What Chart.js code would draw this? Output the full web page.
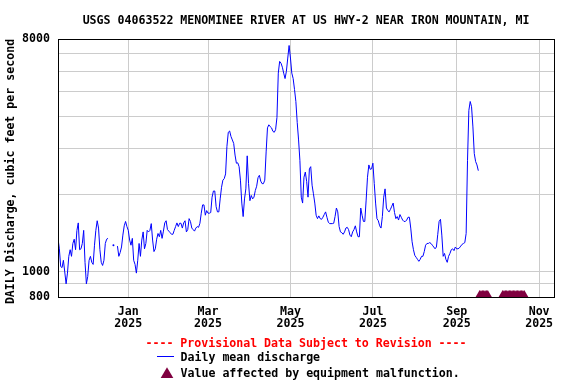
<!DOCTYPE html>
<html>
<head>
<meta charset="utf-8">
<title>USGS 04063522 Menominee River</title>
<script src="https://cdn.jsdelivr.net/npm/chart.js"></script>
<style>
  html, body { margin: 0; padding: 0; background: #fff; }
  #wrap { width: 576px; height: 384px; }
</style>
</head>
<body>
<div id="wrap"><canvas id="chart" width="576" height="384"></canvas></div>
<script>
const titleText = 'USGS 04063522 MENOMINEE RIVER AT US HWY-2 NEAR IRON MOUNTAIN, MI';
const yTitle = 'DAILY Discharge, cubic feet per second';
const provisionalNote = '---- Provisional Data Subject to Revision ----';
const seriesLabel = 'Daily mean discharge';
const markerLabel = 'Value affected by equipment malfunction.';

// first value is 2024-11-10, one value per day
const startDate = '2024-11-10';
const endDate = '2025-11-12';
const discharge = [
  1350, 1230, 1050, 1040, 1110, 1000, 900, 990, 1150, 1220,
  1150, 1290, 1340, 1220, 1450, 1550, 1220, 1230, 1290, 1450,
  1090, 900, 960, 1110, 1150, 1090, 1070, 1270, 1450, 1580,
  1480, 1220, 1090, 1060, 1110, 1290, 1340, 1350, null, null,
  null, 1270, null, null, 1260, 1150, 1190, 1250, 1390, 1510,
  1570, 1500, 1450, 1330, 1270, 1350, 1110, 1070, 990, 1110,
  1290, 1150, 1330, 1430, 1230, 1290, 1450, 1430, 1450, 1540,
  1330, 1200, 1230, 1340, 1410, 1370, 1450, 1350, 1440, 1550,
  1580, 1460, 1440, 1420, 1400, 1400, 1450, 1500, 1550, 1500,
  1545, 1545, 1480, 1550, 1580, 1430, 1460, 1610, 1570, 1480,
  1460, 1440, 1480, 1500, 1490, 1545, 1690, 1820, 1820, 1660,
  1730, 1690, 1690, 1700, 1950, 2060, 2060, 1790, 1710, 1710,
  1920, 2130, 2270, 2300, 2400, 3070, 3480, 3520, 3350, 3250,
  3150, 2840, 2640, 2650, 2560, 2270, 1850, 1640, 1920, 2100,
  2820, 2200, 1890, 1980, 1920, 1950, 2070, 2150, 2320, 2370,
  2250, 2200, 2200, 2270, 2920, 3620, 3720, 3660, 3620, 3510,
  3480, 3560, 3970, 5900, 6550, 6450, 6220, 5900, 5620, 6000,
  6750, 7550, 6750, 5900, 5620, 5100, 4580, 3800, 3250, 2700,
  1950, 1850, 2330, 2440, 2240, 1950, 2510, 2560, 2170, 2010,
  1850, 1660, 1610, 1650, 1610, 1600, 1630, 1670, 1710, 1630,
  1560, 1540, 1540, 1540, 1545, 1640, 1770, 1710, 1500, 1430,
  1420, 1400, 1430, 1480, 1490, 1460, 1390, 1370, 1430, 1460,
  1510, 1430, 1370, 1370, 1770, 1660, 1570, 1570, 1900, 2330,
  2600, 2500, 2510, 2640, 2200, 1850, 1610, 1580, 1510, 1480,
  1640, 1950, 2100, 1770, 1730, 1710, 1750, 1800, 1850, 1700,
  1610, 1640, 1590, 1670, 1630, 1590, 1570, 1570, 1590, 1630,
  1630, 1480, 1310, 1220, 1160, 1140, 1120, 1100, 1120, 1150,
  1150, 1200, 1270, 1290, 1290, 1300, 1290, 1270, 1250, 1230,
  1250, 1400, 1570, 1600, 1390, 1150, 1180, 1120, 1090, 1150,
  1180, 1220, 1230, 1210, 1250, 1230, 1230, 1240, 1260, 1280,
  1290, 1300, 1410, 2700, 4230, 4580, 4370, 3650, 2880, 2680,
  2600, 2470
];

// days flagged for equipment malfunction (first, last)
const malfunctionRanges = [['2025-09-18', '2025-09-24'], ['2025-10-05', '2025-10-21']];
const markerValue = 800;

const tickDates = ['2025-01-01', '2025-03-01', '2025-05-01', '2025-07-01', '2025-09-01', '2025-11-01'];
const tickMonths = ['Jan', 'Mar', 'May', 'Jul', 'Sep', 'Nov'];
const tickYears = ['2025', '2025', '2025', '2025', '2025', '2025'];

const yTickValues = [800, 900, 1000, 2000, 3000, 4000, 5000, 6000, 7000, 8000];
const yLabelValues = [800, 1000, 8000];

const FONT = "'DejaVu Sans Mono', 'Liberation Mono', monospace";
const BLUE = '#0000ff';
const MAROON = '#800040';
const GRID = '#cccccc';

function dayIndex(s) {
  return Math.round((Date.parse(s) - Date.parse(startDate)) / 86400000);
}

const lineData = discharge.map((v, i) => ({ x: i, y: v }));
const markerData = [];
malfunctionRanges.forEach(r => {
  for (let d = dayIndex(r[0]); d <= dayIndex(r[1]); d++) markerData.push({ x: d, y: markerValue });
});

function isolated(i) {
  return discharge[i] != null && discharge[i - 1] == null && discharge[i + 1] == null;
}

// frame, title and legend are drawn by hand
const decorPlugin = {
  id: 'decor',
  afterDraw(chart) {
    const { ctx, chartArea: a } = chart;
    ctx.save();
    ctx.strokeStyle = '#000';
    ctx.lineWidth = 1;
    ctx.strokeRect(a.left + 0.5, a.top + 0.5, a.right - a.left, a.bottom - a.top);

    ctx.font = 'bold 11.6px ' + FONT;
    ctx.textBaseline = 'alphabetic';
    ctx.fillStyle = '#000';
    ctx.textAlign = 'center';
    ctx.fillText(titleText, (a.left + a.right) / 2, 23.5);

    ctx.fillStyle = '#ff0000';
    ctx.fillText(provisionalNote, (a.left + a.right) / 2, 347);

    ctx.strokeStyle = BLUE;
    ctx.beginPath();
    ctx.moveTo(157, 356.5);
    ctx.lineTo(174, 356.5);
    ctx.stroke();

    ctx.fillStyle = MAROON;
    ctx.beginPath();
    ctx.moveTo(167, 367.3);
    ctx.lineTo(173.3, 378);
    ctx.lineTo(160.7, 378);
    ctx.closePath();
    ctx.fill();

    ctx.fillStyle = '#000';
    ctx.textAlign = 'left';
    ctx.fillText(seriesLabel, 180.5, 361);
    ctx.fillText(markerLabel, 180.5, 377);
    ctx.restore();
  }
};

const ctx = document.getElementById('chart').getContext('2d');
const chart = new Chart(ctx, {
  type: 'line',
  data: {
    datasets: [{
      label: seriesLabel,
      data: lineData,
      borderColor: BLUE,
      backgroundColor: BLUE,
      borderWidth: 1,
      spanGaps: false,
      pointRadius: c => isolated(c.dataIndex) ? 1 : 0,
      pointBorderWidth: 0,
      pointBackgroundColor: BLUE,
      tension: 0
    }, {
      label: markerLabel,
      data: markerData,
      showLine: false,
      pointStyle: 'triangle',
      pointRadius: 7,
      pointBorderWidth: 0,
      pointBackgroundColor: MAROON,
      borderColor: MAROON,
      clip: 0
    }]
  },
  options: {
    responsive: false,
    animation: false,
    devicePixelRatio: 1,
    layout: { padding: { top: 39, right: 22, left: 0, bottom: 0 } },
    plugins: {
      legend: { display: false },
      title: { display: false },
      tooltip: { enabled: false }
    },
    scales: {
      x: {
        type: 'linear',
        min: 0,
        max: dayIndex(endDate),
        afterBuildTicks: s => { s.ticks = tickDates.map(d => ({ value: dayIndex(d) })); },
        afterFit: s => { s.height = 87; },
        grid: { color: GRID, drawTicks: false },
        border: { display: false },
        ticks: {
          autoSkip: false,
          maxRotation: 0,
          padding: 9,
          color: '#000',
          font: { family: FONT, size: 11.6, weight: 'bold', lineHeight: 1.04 },
          callback: (v, i) => [tickMonths[i], tickYears[i]]
        }
      },
      y: {
        type: 'logarithmic',
        min: 800,
        max: 8000,
        afterBuildTicks: s => { s.ticks = yTickValues.map(v => ({ value: v })); },
        afterFit: s => { s.width = 58; },
        grid: { color: GRID, drawTicks: false },
        border: { display: false },
        title: {
          display: true,
          // trailing space nudges the centred title down a little, as in the original
          text: yTitle + '\u00a0',
          color: '#000',
          padding: { top: 4, bottom: 0 },
          font: { family: FONT, size: 11.6, weight: 'bold' }
        },
        ticks: {
          autoSkip: false,
          padding: 8,
          color: '#000',
          font: { family: FONT, size: 11.6, weight: 'bold' },
          callback: v => yLabelValues.includes(v) ? String(v) : ''
        }
      }
    }
  },
  plugins: [decorPlugin]
});
</script>
</body>
</html>
